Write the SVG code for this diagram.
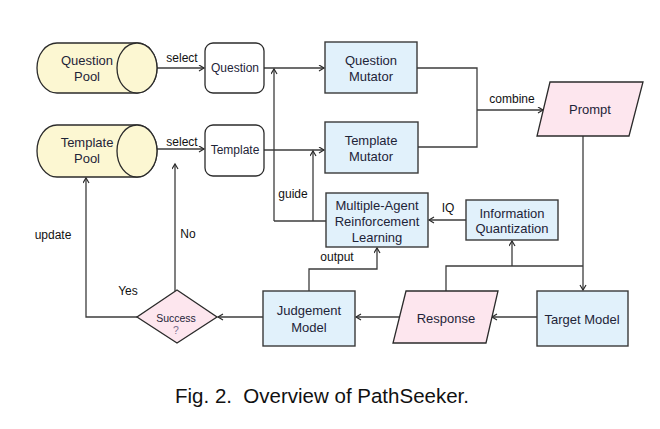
<svg xmlns="http://www.w3.org/2000/svg" width="660" height="429" viewBox="0 0 660 429">
<style>
text{font-family:"Liberation Sans",Arial,sans-serif;text-anchor:middle}
.n{font-size:13px;fill:#1e2438}
.s{font-size:12px;fill:#1e2438}
.lb{font-size:12px;fill:#111}
.cyl{fill:#fcf7d2;stroke:#2b2b2b;stroke-width:1.3}
.rb{fill:#ffffff;stroke:#2b2b2b;stroke-width:1.3}
.bl{fill:#e1f1fb;stroke:#3a3a3a;stroke-width:1.4}
.pk{fill:#fde6ee;stroke:#2b2b2b;stroke-width:1.3}
.c{fill:none;stroke:#3c3c3c;stroke-width:1.3}
.cap{font-family:"Liberation Sans",Arial,sans-serif;font-size:20.5px;fill:#111;white-space:pre}
</style>
<defs>
<marker id="a" markerWidth="8" markerHeight="8" refX="6" refY="3.5" orient="auto" markerUnits="userSpaceOnUse">
<path d="M1,0.5 L6,3.5 L1,6.5" fill="none" stroke="#2b2b2b" stroke-width="1.2"/>
</marker>
</defs>
<rect width="660" height="429" fill="#ffffff"/>
<g id="connectors">
<path class="c" d="M157,68 H204" marker-end="url(#a)"/>
<path class="c" d="M157,149 H204" marker-end="url(#a)"/>
<path class="c" d="M264,68 H324" marker-end="url(#a)"/>
<path class="c" d="M264,150 H324" marker-end="url(#a)"/>
<path class="c" d="M274,221 V69" marker-end="url(#a)"/>
<path class="c" d="M326,221 H274"/>
<path class="c" d="M313,221 V151" marker-end="url(#a)"/>
<path class="c" d="M417,68 H477 V147 H418"/>
<path class="c" d="M477,110 H543" marker-end="url(#a)"/>
<path class="c" d="M583,136 V290" marker-end="url(#a)"/>
<path class="c" d="M446,291 V266 H583"/>
<path class="c" d="M512,266 V241" marker-end="url(#a)"/>
<path class="c" d="M466,220 H429" marker-end="url(#a)"/>
<path class="c" d="M537,317 H492" marker-end="url(#a)"/>
<path class="c" d="M399,317 H356" marker-end="url(#a)"/>
<path class="c" d="M263,317 H218" marker-end="url(#a)"/>
<path class="c" d="M309,291 V269 H377 V248" marker-end="url(#a)"/>
<path class="c" d="M137,317 H86 V178" marker-end="url(#a)"/>
<path class="c" d="M175,291 V164" marker-end="url(#a)"/>
<text class="lb" x="182" y="62">select</text>
<text class="lb" x="182" y="146">select</text>
<text class="lb" x="512" y="103">combine</text>
<text class="lb" x="293" y="198">guide</text>
<text class="lb" x="448" y="212">IQ</text>
<text class="lb" x="337" y="261">output</text>
<text class="lb" x="53" y="239">update</text>
<text class="lb" x="188" y="238">No</text>
<text class="lb" x="128" y="295">Yes</text>
</g>
<g id="question-pool">
<path class="cyl" d="M57,43 H137 A20,25 0 0 1 137,93 H57 A20,25 0 0 1 57,43 Z"/>
<ellipse class="cyl" cx="137" cy="68" rx="20" ry="25"/>
<text class="n" x="87" y="65">Question</text>
<text class="n" x="87" y="81">Pool</text>
</g>
<g id="template-pool">
<path class="cyl" d="M57,125 H137 A20,26 0 0 1 137,177 H57 A20,26 0 0 1 57,125 Z"/>
<ellipse class="cyl" cx="137" cy="151" rx="20" ry="26"/>
<text class="n" x="87" y="147">Template</text>
<text class="n" x="87" y="163">Pool</text>
</g>
<g id="question">
<rect class="rb" x="205" y="43" width="59" height="50" rx="8"/>
<text class="s" x="235" y="72">Question</text>
</g>
<g id="template">
<rect class="rb" x="205" y="125" width="59" height="51" rx="8"/>
<text class="s" x="235" y="154">Template</text>
</g>
<g id="question-mutator">
<rect class="bl" x="325" y="42" width="92" height="51"/>
<text class="n" x="371" y="65">Question</text>
<text class="n" x="371" y="81">Mutator</text>
</g>
<g id="template-mutator">
<rect class="bl" x="325" y="122" width="93" height="51"/>
<text class="n" x="371" y="145">Template</text>
<text class="n" x="371" y="161">Mutator</text>
</g>
<g id="prompt">
<polygon class="pk" points="550,82 643,82 629,136 537,136"/>
<text class="n" x="590" y="114">Prompt</text>
</g>
<g id="marl">
<rect class="bl" x="326" y="193" width="102" height="54"/>
<text class="n" x="377" y="209.5">Multiple-Agent</text>
<text class="n" x="377" y="225.5">Reinforcement</text>
<text class="n" x="377" y="241.5">Learning</text>
</g>
<g id="information-quantization">
<rect class="bl" x="466" y="200" width="92" height="40"/>
<text class="n" x="512" y="217.5">Information</text>
<text class="n" x="512" y="232.5">Quantization</text>
</g>
<g id="target-model">
<rect class="bl" x="537" y="291" width="91" height="55"/>
<text class="n" x="582" y="323.5">Target Model</text>
</g>
<g id="response">
<polygon class="pk" points="406,291 498,291 486,343 393,343"/>
<text class="n" x="446" y="322.5">Response</text>
</g>
<g id="judgement-model">
<rect class="bl" x="263" y="291" width="92" height="55"/>
<text class="n" x="309" y="314.5">Judgement</text>
<text class="n" x="309" y="331.5">Model</text>
</g>
<g id="success">
<polygon class="pk" points="177,290 217,317 177,343 137,317"/>
<text x="176" y="322" style="font-size:10.5px;fill:#1e2438">Success</text>
<text x="176" y="334" style="font-size:10.5px;fill:#7a6f8f">?</text>
</g>
<text class="cap" x="322" y="403">Fig. 2.  Overview of PathSeeker.</text>
</svg>
